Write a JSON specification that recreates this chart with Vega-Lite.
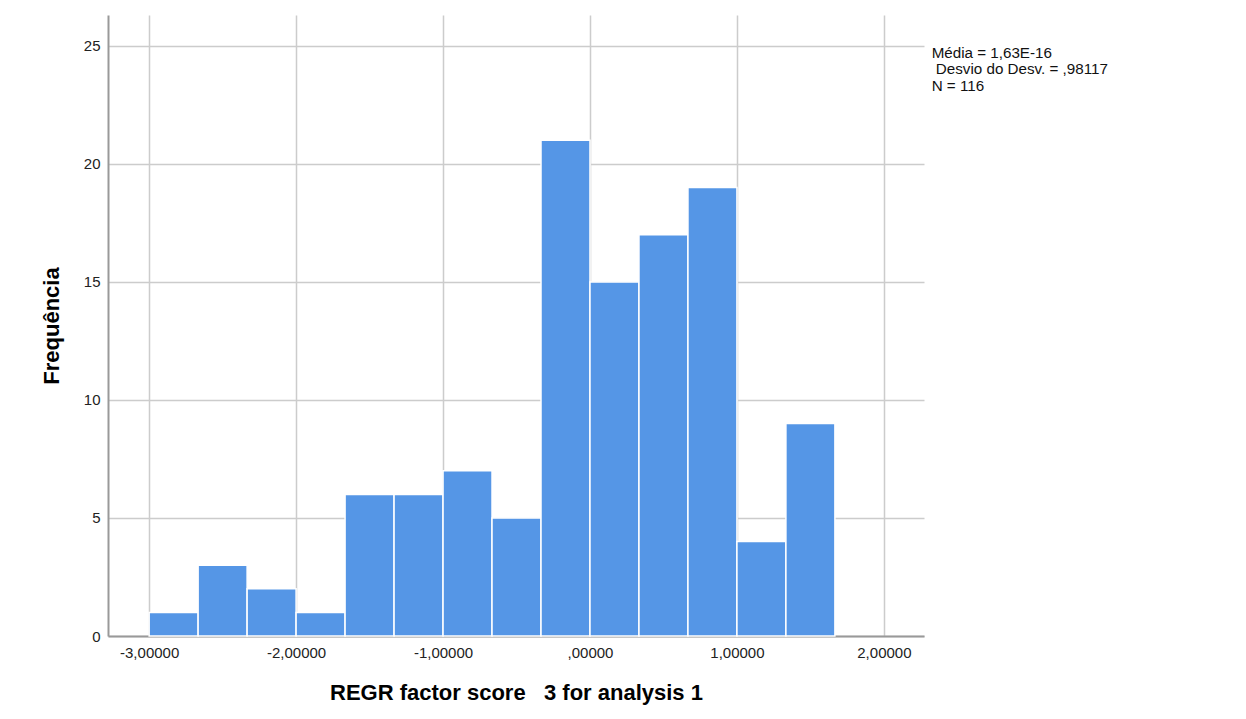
{
  "$schema": "https://vega.github.io/schema/vega-lite/v6.json",
  "autosize": "none",
  "width": 816,
  "height": 621,
  "padding": {"left": 108, "top": 15, "right": 322, "bottom": 83},
  "background": "white",
  "config": {
    "font": "Liberation Sans",
    "view": {"stroke": null},
    "axis": {"gridColor": "#cccccc", "gridWidth": 1.5, "domainColor": "#999999", "domainWidth": 2, "ticks": false, "labelFont": "Liberation Sans", "titleFont": "Liberation Sans", "labelColor": "#222222", "titleColor": "#000000"}
  },
  "layer": [
    {
      "data": {"values": [
        {"bin_start": -3.0, "bin_end": -2.6667, "count": 1},
        {"bin_start": -2.6667, "bin_end": -2.3333, "count": 3},
        {"bin_start": -2.3333, "bin_end": -2.0, "count": 2},
        {"bin_start": -2.0, "bin_end": -1.6667, "count": 1},
        {"bin_start": -1.6667, "bin_end": -1.3333, "count": 6},
        {"bin_start": -1.3333, "bin_end": -1.0, "count": 6},
        {"bin_start": -1.0, "bin_end": -0.6667, "count": 7},
        {"bin_start": -0.6667, "bin_end": -0.3333, "count": 5},
        {"bin_start": -0.3333, "bin_end": 0.0, "count": 21},
        {"bin_start": 0.0, "bin_end": 0.3333, "count": 15},
        {"bin_start": 0.3333, "bin_end": 0.6667, "count": 17},
        {"bin_start": 0.6667, "bin_end": 1.0, "count": 19},
        {"bin_start": 1.0, "bin_end": 1.3333, "count": 4},
        {"bin_start": 1.3333, "bin_end": 1.6667, "count": 9}
      ]},
      "mark": {"type": "rect", "fill": "#5596E6", "stroke": "white", "strokeWidth": 1.5},
      "encoding": {
        "x": {
          "field": "bin_start", "type": "quantitative",
          "scale": {"domain": [-3.28, 2.273], "nice": false, "zero": false},
          "axis": {
            "values": [-3, -2, -1, 0, 1, 2],
            "labelExpr": "datum.value == 0 ? ',00000' : replace(replace(format(datum.value, '.5f'), '.', ','), '\u2212', '-')",
            "labelFontSize": 15, "labelPadding": 9,
            "title": "REGR factor score\u00a0\u00a0\u00a03 for analysis 1",
            "titleFontSize": 22, "titleFontWeight": "bold", "titlePadding": 22
          }
        },
        "x2": {"field": "bin_end"},
        "y": {
          "field": "count", "type": "quantitative",
          "scale": {"domain": [0, 26.31], "nice": false},
          "axis": {
            "values": [0, 5, 10, 15, 20, 25],
            "labelFontSize": 15, "labelPadding": 8,
            "title": "Frequência",
            "titleFontSize": 22, "titleFontWeight": "bold", "titlePadding": 20
          }
        },
        "y2": {"datum": 0}
      }
    },
    {
      "data": {"values": [{"stat": "summary"}]},
      "mark": {
        "type": "text",
        "text": ["Média = 1,63E-16", "\u200b\u00a0Desvio do Desv. = ,98117", "N = 116"],
        "align": "left", "baseline": "top", "fontSize": 15.2, "lineHeight": 16.5,
        "font": "Liberation Sans", "fill": "#111111", "clip": false
      },
      "encoding": {
        "x": {"datum": 2.325},
        "y": {"datum": 25.0}
      }
    }
  ]
}
